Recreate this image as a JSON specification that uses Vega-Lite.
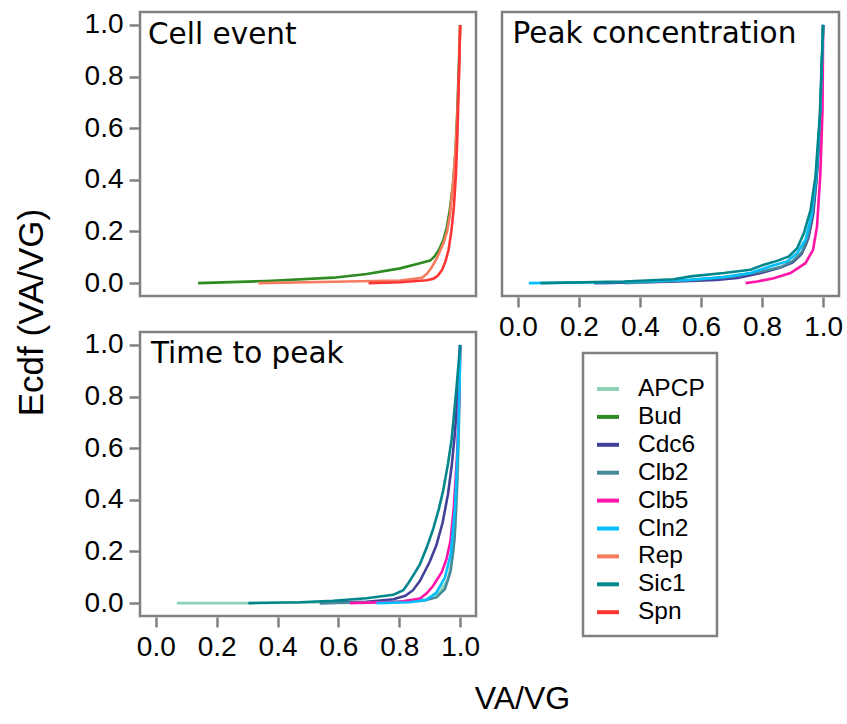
{
  "$schema": "https://vega.github.io/schema/vega-lite/v6.json",
  "autosize": {"type": "none"},
  "padding": {"left": 140, "top": 12, "right": 707, "bottom": 712},
  "background": "white",
  "bounds": "flush",
  "columns": 2,
  "spacing": {"row": 36, "column": 26},
  "datasets": {
    "ecdf": [
    {"panel":"Cell event","protein":"Bud","x":0.139,"y":0},
    {"panel":"Cell event","protein":"Bud","x":0.365,"y":0.008},
    {"panel":"Cell event","protein":"Bud","x":0.584,"y":0.021},
    {"panel":"Cell event","protein":"Bud","x":0.693,"y":0.035},
    {"panel":"Cell event","protein":"Bud","x":0.803,"y":0.057},
    {"panel":"Cell event","protein":"Bud","x":0.868,"y":0.077},
    {"panel":"Cell event","protein":"Bud","x":0.901,"y":0.087},
    {"panel":"Cell event","protein":"Bud","x":0.915,"y":0.102},
    {"panel":"Cell event","protein":"Bud","x":0.93,"y":0.128},
    {"panel":"Cell event","protein":"Bud","x":0.945,"y":0.168},
    {"panel":"Cell event","protein":"Bud","x":0.956,"y":0.215},
    {"panel":"Cell event","protein":"Bud","x":0.966,"y":0.285},
    {"panel":"Cell event","protein":"Bud","x":0.976,"y":0.38},
    {"panel":"Cell event","protein":"Bud","x":0.984,"y":0.5},
    {"panel":"Cell event","protein":"Bud","x":0.99,"y":0.65},
    {"panel":"Cell event","protein":"Bud","x":0.995,"y":0.82},
    {"panel":"Cell event","protein":"Bud","x":1.0,"y":1.0},
    {"panel":"Cell event","protein":"Rep","x":0.337,"y":0},
    {"panel":"Cell event","protein":"Rep","x":0.584,"y":0.005},
    {"panel":"Cell event","protein":"Rep","x":0.803,"y":0.01},
    {"panel":"Cell event","protein":"Rep","x":0.874,"y":0.021},
    {"panel":"Cell event","protein":"Rep","x":0.89,"y":0.035},
    {"panel":"Cell event","protein":"Rep","x":0.905,"y":0.058},
    {"panel":"Cell event","protein":"Rep","x":0.923,"y":0.096},
    {"panel":"Cell event","protein":"Rep","x":0.945,"y":0.154},
    {"panel":"Cell event","protein":"Rep","x":0.957,"y":0.2},
    {"panel":"Cell event","protein":"Rep","x":0.967,"y":0.27},
    {"panel":"Cell event","protein":"Rep","x":0.978,"y":0.4},
    {"panel":"Cell event","protein":"Rep","x":0.985,"y":0.52},
    {"panel":"Cell event","protein":"Rep","x":0.991,"y":0.66},
    {"panel":"Cell event","protein":"Rep","x":0.997,"y":0.837},
    {"panel":"Cell event","protein":"Rep","x":1.0,"y":1.0},
    {"panel":"Cell event","protein":"Spn","x":0.699,"y":0},
    {"panel":"Cell event","protein":"Spn","x":0.803,"y":0.003},
    {"panel":"Cell event","protein":"Spn","x":0.89,"y":0.011},
    {"panel":"Cell event","protein":"Spn","x":0.912,"y":0.017},
    {"panel":"Cell event","protein":"Spn","x":0.926,"y":0.028},
    {"panel":"Cell event","protein":"Spn","x":0.94,"y":0.05},
    {"panel":"Cell event","protein":"Spn","x":0.952,"y":0.085},
    {"panel":"Cell event","protein":"Spn","x":0.962,"y":0.13},
    {"panel":"Cell event","protein":"Spn","x":0.971,"y":0.2},
    {"panel":"Cell event","protein":"Spn","x":0.979,"y":0.29},
    {"panel":"Cell event","protein":"Spn","x":0.986,"y":0.42},
    {"panel":"Cell event","protein":"Spn","x":0.991,"y":0.58},
    {"panel":"Cell event","protein":"Spn","x":0.995,"y":0.76},
    {"panel":"Cell event","protein":"Spn","x":1.0,"y":1.0},

    {"panel":"Peak concentration","protein":"APCP","x":0.28,"y":0},
    {"panel":"Peak concentration","protein":"APCP","x":0.5,"y":0.008},
    {"panel":"Peak concentration","protein":"APCP","x":0.65,"y":0.02},
    {"panel":"Peak concentration","protein":"APCP","x":0.75,"y":0.035},
    {"panel":"Peak concentration","protein":"APCP","x":0.82,"y":0.05},
    {"panel":"Peak concentration","protein":"APCP","x":0.87,"y":0.065},
    {"panel":"Peak concentration","protein":"APCP","x":0.9,"y":0.08},
    {"panel":"Peak concentration","protein":"APCP","x":0.925,"y":0.105},
    {"panel":"Peak concentration","protein":"APCP","x":0.945,"y":0.15},
    {"panel":"Peak concentration","protein":"APCP","x":0.962,"y":0.23},
    {"panel":"Peak concentration","protein":"APCP","x":0.977,"y":0.38},
    {"panel":"Peak concentration","protein":"APCP","x":0.99,"y":0.62},
    {"panel":"Peak concentration","protein":"APCP","x":1.0,"y":1.0},
    {"panel":"Peak concentration","protein":"Cdc6","x":0.25,"y":0},
    {"panel":"Peak concentration","protein":"Cdc6","x":0.5,"y":0.005},
    {"panel":"Peak concentration","protein":"Cdc6","x":0.65,"y":0.012},
    {"panel":"Peak concentration","protein":"Cdc6","x":0.72,"y":0.02},
    {"panel":"Peak concentration","protein":"Cdc6","x":0.8,"y":0.04},
    {"panel":"Peak concentration","protein":"Cdc6","x":0.86,"y":0.06},
    {"panel":"Peak concentration","protein":"Cdc6","x":0.9,"y":0.08},
    {"panel":"Peak concentration","protein":"Cdc6","x":0.93,"y":0.115},
    {"panel":"Peak concentration","protein":"Cdc6","x":0.952,"y":0.175},
    {"panel":"Peak concentration","protein":"Cdc6","x":0.968,"y":0.27},
    {"panel":"Peak concentration","protein":"Cdc6","x":0.982,"y":0.45},
    {"panel":"Peak concentration","protein":"Cdc6","x":0.993,"y":0.7},
    {"panel":"Peak concentration","protein":"Cdc6","x":1.0,"y":1.0},
    {"panel":"Peak concentration","protein":"Clb2","x":0.35,"y":0},
    {"panel":"Peak concentration","protein":"Clb2","x":0.55,"y":0.01},
    {"panel":"Peak concentration","protein":"Clb2","x":0.7,"y":0.025},
    {"panel":"Peak concentration","protein":"Clb2","x":0.8,"y":0.045},
    {"panel":"Peak concentration","protein":"Clb2","x":0.86,"y":0.062},
    {"panel":"Peak concentration","protein":"Clb2","x":0.9,"y":0.085},
    {"panel":"Peak concentration","protein":"Clb2","x":0.93,"y":0.12},
    {"panel":"Peak concentration","protein":"Clb2","x":0.95,"y":0.18},
    {"panel":"Peak concentration","protein":"Clb2","x":0.965,"y":0.27},
    {"panel":"Peak concentration","protein":"Clb2","x":0.98,"y":0.44},
    {"panel":"Peak concentration","protein":"Clb2","x":0.992,"y":0.68},
    {"panel":"Peak concentration","protein":"Clb2","x":1.0,"y":1.0},
    {"panel":"Peak concentration","protein":"Clb5","x":0.746,"y":0},
    {"panel":"Peak concentration","protein":"Clb5","x":0.784,"y":0.006},
    {"panel":"Peak concentration","protein":"Clb5","x":0.838,"y":0.019},
    {"panel":"Peak concentration","protein":"Clb5","x":0.893,"y":0.039},
    {"panel":"Peak concentration","protein":"Clb5","x":0.942,"y":0.077},
    {"panel":"Peak concentration","protein":"Clb5","x":0.967,"y":0.129},
    {"panel":"Peak concentration","protein":"Clb5","x":0.98,"y":0.219},
    {"panel":"Peak concentration","protein":"Clb5","x":0.991,"y":0.426},
    {"panel":"Peak concentration","protein":"Clb5","x":0.998,"y":0.671},
    {"panel":"Peak concentration","protein":"Clb5","x":1.0,"y":1.0},
    {"panel":"Peak concentration","protein":"Cln2","x":0.036,"y":0},
    {"panel":"Peak concentration","protein":"Cln2","x":0.347,"y":0.004},
    {"panel":"Peak concentration","protein":"Cln2","x":0.566,"y":0.013},
    {"panel":"Peak concentration","protein":"Cln2","x":0.675,"y":0.023},
    {"panel":"Peak concentration","protein":"Cln2","x":0.762,"y":0.039},
    {"panel":"Peak concentration","protein":"Cln2","x":0.827,"y":0.065},
    {"panel":"Peak concentration","protein":"Cln2","x":0.882,"y":0.084},
    {"panel":"Peak concentration","protein":"Cln2","x":0.915,"y":0.116},
    {"panel":"Peak concentration","protein":"Cln2","x":0.942,"y":0.168},
    {"panel":"Peak concentration","protein":"Cln2","x":0.961,"y":0.258},
    {"panel":"Peak concentration","protein":"Cln2","x":0.978,"y":0.426},
    {"panel":"Peak concentration","protein":"Cln2","x":0.991,"y":0.671},
    {"panel":"Peak concentration","protein":"Cln2","x":1.0,"y":1.0},
    {"panel":"Peak concentration","protein":"Sic1","x":0.074,"y":0},
    {"panel":"Peak concentration","protein":"Sic1","x":0.347,"y":0.006},
    {"panel":"Peak concentration","protein":"Sic1","x":0.511,"y":0.015},
    {"panel":"Peak concentration","protein":"Sic1","x":0.566,"y":0.026},
    {"panel":"Peak concentration","protein":"Sic1","x":0.675,"y":0.039},
    {"panel":"Peak concentration","protein":"Sic1","x":0.762,"y":0.052},
    {"panel":"Peak concentration","protein":"Sic1","x":0.806,"y":0.071},
    {"panel":"Peak concentration","protein":"Sic1","x":0.849,"y":0.086},
    {"panel":"Peak concentration","protein":"Sic1","x":0.888,"y":0.103},
    {"panel":"Peak concentration","protein":"Sic1","x":0.915,"y":0.135},
    {"panel":"Peak concentration","protein":"Sic1","x":0.937,"y":0.194},
    {"panel":"Peak concentration","protein":"Sic1","x":0.959,"y":0.284},
    {"panel":"Peak concentration","protein":"Sic1","x":0.975,"y":0.413},
    {"panel":"Peak concentration","protein":"Sic1","x":0.989,"y":0.645},
    {"panel":"Peak concentration","protein":"Sic1","x":1.0,"y":1.0},

    {"panel":"Time to peak","protein":"APCP","x":0.069,"y":0},
    {"panel":"Time to peak","protein":"APCP","x":0.31,"y":0},
    {"panel":"Time to peak","protein":"APCP","x":0.583,"y":0.003},
    {"panel":"Time to peak","protein":"APCP","x":0.802,"y":0.006},
    {"panel":"Time to peak","protein":"APCP","x":0.889,"y":0.015},
    {"panel":"Time to peak","protein":"APCP","x":0.933,"y":0.041},
    {"panel":"Time to peak","protein":"APCP","x":0.96,"y":0.093},
    {"panel":"Time to peak","protein":"APCP","x":0.977,"y":0.19},
    {"panel":"Time to peak","protein":"APCP","x":0.988,"y":0.37},
    {"panel":"Time to peak","protein":"APCP","x":0.995,"y":0.603},
    {"panel":"Time to peak","protein":"APCP","x":1.0,"y":1.0},
    {"panel":"Time to peak","protein":"Cdc6","x":0.539,"y":0},
    {"panel":"Time to peak","protein":"Cdc6","x":0.693,"y":0.005},
    {"panel":"Time to peak","protein":"Cdc6","x":0.78,"y":0.015},
    {"panel":"Time to peak","protein":"Cdc6","x":0.82,"y":0.028},
    {"panel":"Time to peak","protein":"Cdc6","x":0.845,"y":0.05},
    {"panel":"Time to peak","protein":"Cdc6","x":0.868,"y":0.086},
    {"panel":"Time to peak","protein":"Cdc6","x":0.9,"y":0.16},
    {"panel":"Time to peak","protein":"Cdc6","x":0.922,"y":0.225},
    {"panel":"Time to peak","protein":"Cdc6","x":0.942,"y":0.31},
    {"panel":"Time to peak","protein":"Cdc6","x":0.96,"y":0.422},
    {"panel":"Time to peak","protein":"Cdc6","x":0.972,"y":0.53},
    {"panel":"Time to peak","protein":"Cdc6","x":0.982,"y":0.65},
    {"panel":"Time to peak","protein":"Cdc6","x":0.991,"y":0.796},
    {"panel":"Time to peak","protein":"Cdc6","x":1.0,"y":1.0},
    {"panel":"Time to peak","protein":"Clb2","x":0.539,"y":0},
    {"panel":"Time to peak","protein":"Clb2","x":0.747,"y":0.003},
    {"panel":"Time to peak","protein":"Clb2","x":0.879,"y":0.009},
    {"panel":"Time to peak","protein":"Clb2","x":0.922,"y":0.022},
    {"panel":"Time to peak","protein":"Clb2","x":0.95,"y":0.054},
    {"panel":"Time to peak","protein":"Clb2","x":0.969,"y":0.125},
    {"panel":"Time to peak","protein":"Clb2","x":0.982,"y":0.254},
    {"panel":"Time to peak","protein":"Clb2","x":0.99,"y":0.474},
    {"panel":"Time to peak","protein":"Clb2","x":0.996,"y":0.732},
    {"panel":"Time to peak","protein":"Clb2","x":1.0,"y":1.0},
    {"panel":"Time to peak","protein":"Clb5","x":0.638,"y":0},
    {"panel":"Time to peak","protein":"Clb5","x":0.802,"y":0.005},
    {"panel":"Time to peak","protein":"Clb5","x":0.868,"y":0.018},
    {"panel":"Time to peak","protein":"Clb5","x":0.89,"y":0.038},
    {"panel":"Time to peak","protein":"Clb5","x":0.91,"y":0.065},
    {"panel":"Time to peak","protein":"Clb5","x":0.939,"y":0.119},
    {"panel":"Time to peak","protein":"Clb5","x":0.955,"y":0.17},
    {"panel":"Time to peak","protein":"Clb5","x":0.968,"y":0.24},
    {"panel":"Time to peak","protein":"Clb5","x":0.979,"y":0.37},
    {"panel":"Time to peak","protein":"Clb5","x":0.99,"y":0.577},
    {"panel":"Time to peak","protein":"Clb5","x":0.997,"y":0.796},
    {"panel":"Time to peak","protein":"Clb5","x":1.0,"y":1.0},
    {"panel":"Time to peak","protein":"Cln2","x":0.725,"y":0},
    {"panel":"Time to peak","protein":"Cln2","x":0.835,"y":0.003},
    {"panel":"Time to peak","protein":"Cln2","x":0.889,"y":0.012},
    {"panel":"Time to peak","protein":"Cln2","x":0.922,"y":0.041},
    {"panel":"Time to peak","protein":"Cln2","x":0.95,"y":0.099},
    {"panel":"Time to peak","protein":"Cln2","x":0.969,"y":0.19},
    {"panel":"Time to peak","protein":"Cln2","x":0.983,"y":0.37},
    {"panel":"Time to peak","protein":"Cln2","x":0.992,"y":0.603},
    {"panel":"Time to peak","protein":"Cln2","x":0.998,"y":0.835},
    {"panel":"Time to peak","protein":"Cln2","x":1.0,"y":1.0},
    {"panel":"Time to peak","protein":"Sic1","x":0.304,"y":0},
    {"panel":"Time to peak","protein":"Sic1","x":0.474,"y":0.003},
    {"panel":"Time to peak","protein":"Sic1","x":0.583,"y":0.009},
    {"panel":"Time to peak","protein":"Sic1","x":0.693,"y":0.019},
    {"panel":"Time to peak","protein":"Sic1","x":0.78,"y":0.032},
    {"panel":"Time to peak","protein":"Sic1","x":0.813,"y":0.05},
    {"panel":"Time to peak","protein":"Sic1","x":0.83,"y":0.078},
    {"panel":"Time to peak","protein":"Sic1","x":0.85,"y":0.115},
    {"panel":"Time to peak","protein":"Sic1","x":0.868,"y":0.151},
    {"panel":"Time to peak","protein":"Sic1","x":0.89,"y":0.215},
    {"panel":"Time to peak","protein":"Sic1","x":0.911,"y":0.286},
    {"panel":"Time to peak","protein":"Sic1","x":0.93,"y":0.365},
    {"panel":"Time to peak","protein":"Sic1","x":0.944,"y":0.435},
    {"panel":"Time to peak","protein":"Sic1","x":0.96,"y":0.54},
    {"panel":"Time to peak","protein":"Sic1","x":0.972,"y":0.635},
    {"panel":"Time to peak","protein":"Sic1","x":0.988,"y":0.835},
    {"panel":"Time to peak","protein":"Sic1","x":1.0,"y":1.0}
    ]
  },
  "concat": [
    {
      "width": 336, "height": 284,
      "layer": [
        {
          "data": {"name": "ecdf"},
          "transform": [{"filter": "datum.panel === 'Cell event'"}],
          "mark": {"type": "line", "strokeWidth": 2.6},
          "encoding": {
            "x": {"field": "x", "type": "quantitative", "scale": {"domain": [-0.052, 1.052], "nice": false, "zero": false}, "axis": null},
            "y": {"field": "y", "type": "quantitative", "scale": {"domain": [-0.05, 1.05], "nice": false, "zero": false},
                  "axis": {"values": [0, 0.2, 0.4, 0.6, 0.8, 1], "format": ".1f", "title": "Ecdf (VA/VG)",
                           "titleX": -97, "titleY": 300, "titleAngle": 270, "titleBaseline": "alphabetic", "titleAlign": "center", "titleFontSize": 35}},
            "color": {"field": "protein", "type": "nominal",
                      "scale": {"domain": ["APCP","Bud","Cdc6","Clb2","Clb5","Cln2","Rep","Sic1","Spn"],
                                "range": ["#8cd3b6","#2e8b22","#43409a","#468a9b","#ff14a8","#00bfff","#f77b5e","#00868b","#ff3434"]},
                      "legend": {"orient": "none", "legendX": 443, "legendY": 341, "title": " "}}
          }
        },
        {
          "data": {"values": [{"label": "Cell event"}]},
          "mark": {"type": "text", "align": "left", "baseline": "alphabetic", "font": "DejaVu Sans", "fontSize": 29.5, "color": "#000000"},
          "encoding": {"x": {"datum": -0.0257}, "y": {"datum": 0.927}, "text": {"field": "label"}}
        }
      ]
    },
    {
      "width": 337, "height": 284,
      "layer": [
        {
          "data": {"name": "ecdf"},
          "transform": [{"filter": "datum.panel === 'Peak concentration'"}],
          "mark": {"type": "line", "strokeWidth": 2.6},
          "encoding": {
            "x": {"field": "x", "type": "quantitative", "scale": {"domain": [-0.052, 1.052], "nice": false, "zero": false},
                  "axis": {"values": [0, 0.2, 0.4, 0.6, 0.8, 1], "format": ".1f", "title": null}},
            "y": {"field": "y", "type": "quantitative", "scale": {"domain": [-0.05, 1.05], "nice": false, "zero": false}, "axis": null},
            "color": {"field": "protein", "type": "nominal",
                      "scale": {"domain": ["APCP","Bud","Cdc6","Clb2","Clb5","Cln2","Rep","Sic1","Spn"],
                                "range": ["#8cd3b6","#2e8b22","#43409a","#468a9b","#ff14a8","#00bfff","#f77b5e","#00868b","#ff3434"]},
                      "legend": {"orient": "none", "legendX": 443, "legendY": 341, "title": " "}}
          }
        },
        {
          "data": {"values": [{"label": "Peak concentration"}]},
          "mark": {"type": "text", "align": "left", "baseline": "alphabetic", "font": "DejaVu Sans", "fontSize": 29.5, "color": "#000000"},
          "encoding": {"x": {"datum": -0.0173}, "y": {"datum": 0.93}, "text": {"field": "label"}}
        }
      ]
    },
    {
      "width": 336, "height": 284,
      "layer": [
        {
          "data": {"name": "ecdf"},
          "transform": [{"filter": "datum.panel === 'Time to peak'"}],
          "mark": {"type": "line", "strokeWidth": 2.6},
          "encoding": {
            "x": {"field": "x", "type": "quantitative", "scale": {"domain": [-0.052, 1.052], "nice": false, "zero": false},
                  "axis": {"values": [0, 0.2, 0.4, 0.6, 0.8, 1], "format": ".1f", "title": "VA/VG",
                           "titleX": 382, "titleY": 91, "titleBaseline": "alphabetic", "titleAlign": "center", "titleFontSize": 32}},
            "y": {"field": "y", "type": "quantitative", "scale": {"domain": [-0.05, 1.05], "nice": false, "zero": false},
                  "axis": {"values": [0, 0.2, 0.4, 0.6, 0.8, 1], "format": ".1f", "title": null}},
            "color": {"field": "protein", "type": "nominal",
                      "scale": {"domain": ["APCP","Bud","Cdc6","Clb2","Clb5","Cln2","Rep","Sic1","Spn"],
                                "range": ["#8cd3b6","#2e8b22","#43409a","#468a9b","#ff14a8","#00bfff","#f77b5e","#00868b","#ff3434"]},
                      "legend": {"orient": "none", "legendX": 443, "legendY": 341, "title": " "}}
          }
        },
        {
          "data": {"values": [{"label": "Time to peak"}]},
          "mark": {"type": "text", "align": "left", "baseline": "alphabetic", "font": "DejaVu Sans", "fontSize": 29.5, "color": "#000000"},
          "encoding": {"x": {"datum": -0.0159}, "y": {"datum": 0.929}, "text": {"field": "label"}}
        }
      ]
    }
  ],
  "config": {
    "font": "Liberation Sans",
    "view": {"stroke": "#808080", "strokeWidth": 2.5},
    "axis": {"domain": false, "grid": false, "ticks": true, "tickColor": "#808080", "tickWidth": 2.5, "tickSize": 10, "offset": 1,
             "labelFontSize": 28, "labelColor": "#000000", "labelPadding": 6, "labelFlush": false, "labelOverlap": false,
             "titleColor": "#000000", "titleFontWeight": "normal"},
    "legend": {"symbolType": "stroke", "symbolStrokeWidth": 4, "symbolSize": 484, "labelFontSize": 24.5, "labelColor": "#000000",
               "labelOffset": 17, "rowPadding": 2.9, "padding": 12, "strokeColor": "#808080", "strokeWidth": 2.5,
               "titleFontSize": 8, "titlePadding": 3, "symbolOpacity": 1}
  }
}
